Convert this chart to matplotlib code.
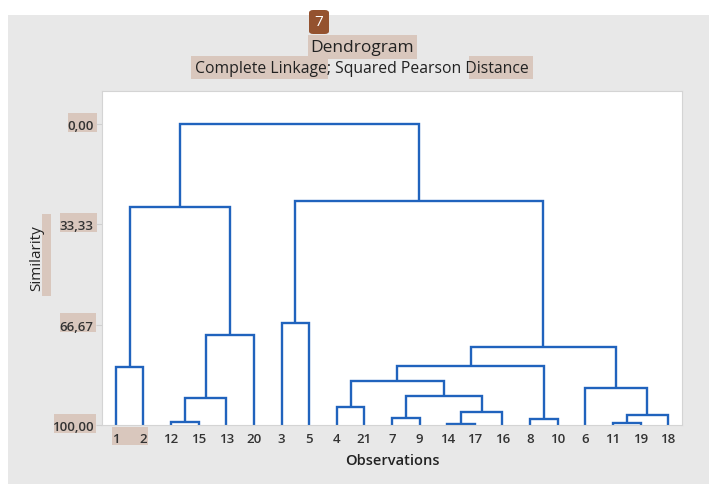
import matplotlib
matplotlib.use("Agg")
import matplotlib.pyplot as plt
from matplotlib.patches import Rectangle, FancyBboxPatch

# ---- data ----
leaf_order = [1, 2, 12, 15, 13, 20, 3, 5, 4, 21, 7, 9, 14, 17, 16, 8, 10, 6, 11, 19, 18]
# merges: (name, left, right, similarity); left/right are observation numbers or merge names
merges = [
    ("A", 14, 17, 99.7),
    ("B", 11, 19, 99.4),
    ("C", 12, 15, 98.9),
    ("D", 8, 10, 98.1),
    ("E", 7, 9, 97.6),
    ("F", "B", 18, 96.6),
    ("G", "A", 16, 95.6),
    ("H", 4, 21, 93.9),
    ("I", "C", 13, 90.9),
    ("J", "E", "G", 90.5),
    ("K", 6, "F", 87.7),
    ("L", "H", "J", 85.4),
    ("M", 1, 2, 80.8),
    ("N", "L", "D", 80.3),
    ("O", "N", "K", 74.0),
    ("P", "I", 20, 70.0),
    ("Q", 3, 5, 66.1),
    ("R", "M", "P", 27.7),
    ("S", "Q", "O", 25.6),
    ("T", "R", "S", 0.0),
]
ytick_vals = [0.0, 33.33, 66.67, 100.0]
ytick_labels = ["0,00", "33,33", "66,67", "100,00"]

W, H = 709, 485
fig = plt.figure(figsize=(W / 100, H / 100), dpi=100)
fig.patch.set_facecolor("white")

FONT = "Open Sans"
HL = "#d9c7bd"

def px(x0, y0, x1, y1, **kw):
    r = Rectangle((x0 / W, 1 - y1 / H), (x1 - x0) / W, (y1 - y0) / H,
                  transform=fig.transFigure, **kw)
    fig.patches.append(r)

# gray background panel
px(8, 16, 709, 485, facecolor="#e8e8e8", edgecolor="none", zorder=0)

# highlights
for box in [(308, 36, 417, 60), (191, 57, 328, 80), (469, 57, 533, 80),
            (68, 114, 97, 133), (60, 214, 97, 233), (60, 314, 96, 333),
            (54, 415, 96, 434), (42, 215, 51, 297), (112, 428, 148, 446)]:
    px(*box, facecolor=HL, edgecolor="none", zorder=0.5)

# badge
badge = FancyBboxPatch((309 / W, 1 - 35 / H), 20 / W, 24 / H,
                       boxstyle="round,pad=0,rounding_size=0.006",
                       transform=fig.transFigure, facecolor="#94522f",
                       edgecolor="none", zorder=1)
fig.patches.append(badge)
fig.text(319 / W, 1 - 23 / H, "7", color="white", fontsize=11, ha="center",
         va="center", family=FONT, zorder=2)

# axes
ax = fig.add_axes([102 / W, 1 - 426 / H, 580 / W, 334 / H])
ax.set_facecolor("white")
ax.set_zorder(1)

pos = {leaf: i + 1 for i, leaf in enumerate(leaf_order)}
hgt = {leaf: 100.0 for leaf in leaf_order}
line_color = "#2063bd"
for name, l, r, s in merges:
    xl, xr = pos[l], pos[r]
    ax.plot([xl, xl, xr, xr], [hgt[l], s, s, hgt[r]], color=line_color,
             lw=1.7, solid_joinstyle="miter", solid_capstyle="butt", clip_on=False)
    pos[name] = (xl + xr) / 2
    hgt[name] = s

ax.set_xlim(0.5, len(leaf_order) + 0.5)
ax.set_ylim(100, -11)
ax.set_yticks(ytick_vals)
ax.set_yticklabels(ytick_labels)
ax.set_xticks(range(1, len(leaf_order) + 1))
ax.set_xticklabels([str(v) for v in leaf_order])
for sp in ax.spines.values():
    sp.set_color("#d4d4d4")
    sp.set_linewidth(0.8)
ax.tick_params(axis="y", length=4, color="#d0d0d0", pad=2)
ax.tick_params(axis="x", length=0, pad=5)
for lab in ax.get_xticklabels() + ax.get_yticklabels():
    lab.set_family(FONT)
    lab.set_fontweight("semibold")
    lab.set_fontsize(9.5)
    lab.set_color("#333333")

fig.text(37 / W, 1 - 258 / H, "Similarity", rotation=90, ha="center", va="center",
         fontsize=11, family=FONT, color="#222222", zorder=2)
fig.text(392 / W, 1 - 461 / H, "Observations", ha="center", va="center",
         fontsize=10.5, family=FONT, fontweight="semibold", color="#222222")
fig.text(362 / W, 1 - 48 / H, "Dendrogram", ha="center", va="center",
         fontsize=12.5, family=FONT, color="#222222", zorder=2)
fig.text(362 / W, 1 - 69 / H, "Complete Linkage; Squared Pearson Distance",
         ha="center", va="center", fontsize=11.3, family=FONT,
         color="#222222", zorder=2)

fig.savefig("out.png", dpi=100, facecolor=fig.get_facecolor())
